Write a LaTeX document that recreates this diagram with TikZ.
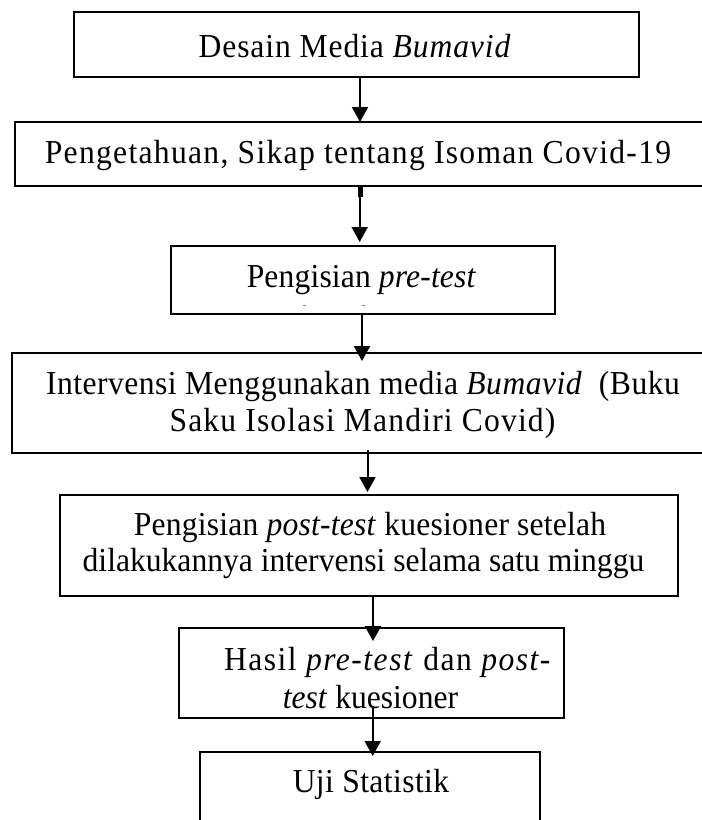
\documentclass[tikz,border=0pt]{standalone}
\usepackage{fontspec}
\usepackage{graphicx}
\setmainfont{Liberation Serif}
\usetikzlibrary{arrows.meta}
\newcommand{\lsp}[1]{\addfontfeature{LetterSpace=#1}}
\newcommand{\tallt}[1]{\scalebox{1}[1.06]{#1}}
\begin{document}
\begin{tikzpicture}[x=1pt,y=-1pt,
  box/.style={draw=black,line width=2pt,rectangle,inner sep=0pt},
  txt/.style={inner sep=0pt,anchor=base,font=\fontsize{31.6}{38}\selectfont},
  arr/.style={line width=2pt,-{Triangle[width=16pt,length=15pt]}}]
\useasboundingbox (0,0) rectangle (702,820);
\fill[white] (0,0) rectangle (702,820);
\begin{scope}
\clip (0,0) rectangle (702,820);
\node[box,minimum width=565pt,minimum height=65pt] (b1) at (356.5,44.5) {};
\node[box,minimum width=688pt,minimum height=64pt] (b2) at (359,154) {};
\node[box,minimum width=384pt,minimum height=68pt] (b3) at (363,280) {};
\node[box,minimum width=702pt,minimum height=100pt] (b4) at (363,403) {};
\node[box,minimum width=618pt,minimum height=101pt] (b5) at (369,545.5) {};
\node[box,minimum width=385pt,minimum height=90pt] (b6) at (371.5,673) {};
\node[box,minimum width=340pt,minimum height=78pt] (b7) at (370,791) {};

\node[txt] (t1) at (355,57) {\tallt{\lsp{2.8}Desain Media \textit{Bumavid}}};
\node[txt] (t2) at (358,163) {\tallt{\lsp{4.1}Pengetahuan, Sikap tentang Isoman Covid-19}};
\node[txt] (t3) at (361.5,287) {\tallt{\lsp{0.5}Pengisian \textit{pre-test}}};
\node[txt] (t4a) at (363,394) {\tallt{\lsp{1.5}Intervensi Menggunakan media \textit{Bumavid}\ \ (Buku}};
\node[txt] (t4b) at (362.5,431) {\tallt{\lsp{3.7}Saku Isolasi Mandiri Covid)}};
\node[txt] (t5a) at (370,535) {\tallt{\lsp{0.7}Pengisian \textit{post-test} kuesioner setelah}};
\node[txt] (t5b) at (363.5,571) {\tallt{dilakukannya intervensi selama satu minggu}};
\node[txt] (t6a) at (388,670) {\tallt{\lsp{4.7}Hasil \textit{pre-test} dan \textit{post-}}};
\node[txt] (t6b) at (370.5,708) {\tallt{\textit{test} kuesioner}};
\node[txt] (t7) at (371,792) {\tallt{\lsp{1.3}Uji Statistik}};

\fill[black!45] (302.5,304.5) rectangle (305.5,306);
\fill[black!45] (361.5,304.5) rectangle (364.5,306);

\draw[arr] ([xshift=3.5pt]b1.south) -- ([xshift=1pt,yshift=-1pt]b2.north);
\fill[black] ([xshift=-1.3pt]b2.south) rectangle ([xshift=4.3pt,yshift=-10pt]b2.south);
\draw[arr] ([xshift=0.7pt]b2.south) -- ([xshift=-3.3pt,yshift=3pt]b3.north);
\draw[arr] ([xshift=-1pt]b3.south) -- ([xshift=-1pt,yshift=-9pt]b4.north);
\draw[arr] ([xshift=4.5pt,yshift=4pt]b4.south) -- ([xshift=-1.5pt,yshift=2pt]b5.north);
\draw[arr] ([xshift=4pt]b5.south) -- ([xshift=1.5pt,yshift=-14pt]b6.north);
\draw[arr] ([xshift=1.2pt,yshift=13pt]b6.south) -- ([xshift=2.7pt,yshift=-5pt]b7.north);
\end{scope}
\end{tikzpicture}
\end{document}
